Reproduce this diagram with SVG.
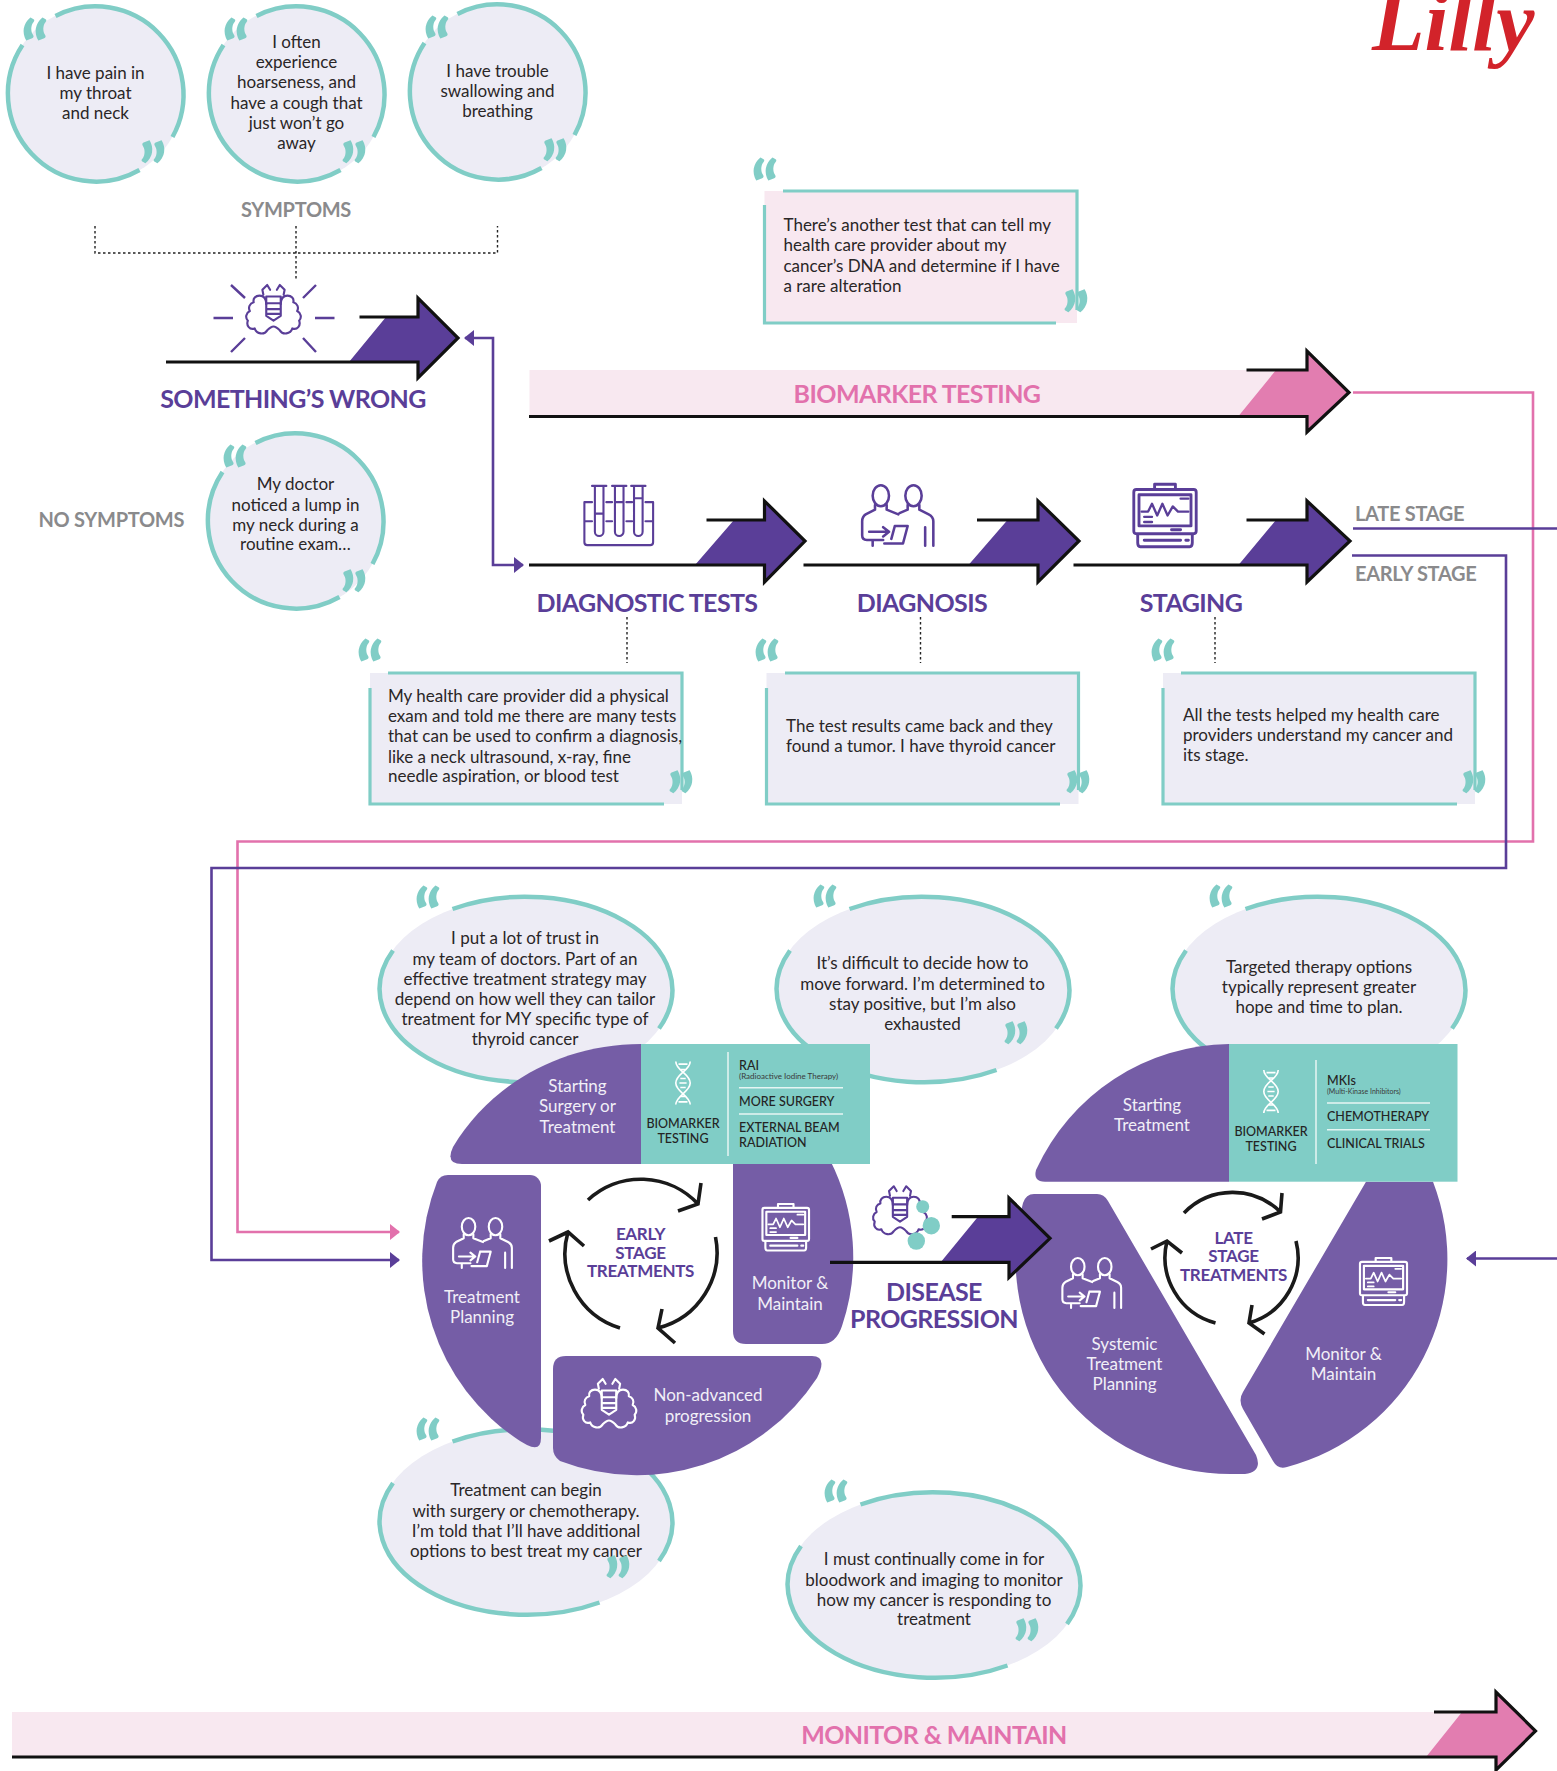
<svg xmlns="http://www.w3.org/2000/svg" xmlns:xlink="http://www.w3.org/1999/xlink" width="1557" height="1771" viewBox="0 0 1557 1771">
<style>
text{font-family:Lato,"Liberation Sans",sans-serif}
.b{font-size:17px;fill:#2a2627}
.c{text-anchor:middle}
.w{font-size:17px;fill:#f1eff7;text-anchor:middle}
.h{font-size:25px;font-weight:700;fill:#5a3e98;text-anchor:middle;letter-spacing:-.6px}
.g{font-size:20px;font-weight:700;fill:#8a8a8c;letter-spacing:-.3px}
.t{font-size:17px;font-weight:700;fill:#5a3e98;text-anchor:middle;letter-spacing:-.3px}
.q{font-size:70px;font-weight:900;fill:#80cdc6}
.s{font-size:12.5px;font-weight:500;fill:#242424}
.xs{font-size:8px;fill:#3a3a3a}
.ring{fill:none;stroke:#80cdc6;stroke-width:4.5}
.lav{fill:#edecf5}
.panel{fill:#755da6}
.teal{fill:#80cdc6}
.arrow{fill:none;stroke:#111;stroke-width:3.2;stroke-linejoin:miter}
.cyc{fill:none;stroke:#1a1a1a;stroke-width:3.6}
.dot{fill:none;stroke:#222;stroke-width:1.4;stroke-dasharray:2.5 2.5}
.wl{stroke:#e6f5f3;stroke-width:1.5}
.box{fill:none;stroke:#80cdc6;stroke-width:3.2}
.ic{fill:none;stroke:currentColor;stroke-width:2.2;stroke-linejoin:round;stroke-linecap:round}
</style>
<defs>
<path id="rg" d="M-40,-78A88,88 0 0 1 77,43M44,76A88,88 0 0 1-73,-49"/>
<path id="eg" d="M-73.5,-80.5A147,93 0 0 1 133,39M73.5,80.5A147,93 0 0 1-133,-39"/>
<symbol id="thy" viewBox="-1 -1 65 60" overflow="visible"><g class="ic"><path d="M24,21C24,14 21,12 17,12C13,12 10,15 11,19C7,20 5,24 7,28C3,30 2,35 5,38C3,43 7,48 12,46C14,52 22,53 25,48C27,46 29,44 31.5,44C34,44 36,46 38,48C41,53 49,52 51,46C56,48 60,43 58,38C61,35 60,30 56,28C58,24 56,20 52,19C53,15 50,12 46,12C42,12 39,14 39,21"/><path d="M24,13H39V33L31.5,38L24,33ZM24,20H39M24,26H39M25,31H38M21,11L20,6L25,1L28,6M42,11L43,6L38,1L35,6"/></g></symbol>
<symbol id="ppl" viewBox="-1 -1 63 54" overflow="visible"><g class="ic"><ellipse cx="16" cy="9" rx="7" ry="9"/><ellipse cx="44" cy="9" rx="7" ry="9"/><path d="M11,17V21L3,25Q0,27 0,31V43Q0,47 4,47H18M21,17V21L31,25M39,17V21L32,24M49,17V21L57,25Q61,27 61,31V52M54,36V52M28,35H39L35,50H19M28,35L25,46M6,40H22M18,36L23,40L18,44M9,47V52"/></g></symbol>
<symbol id="mon" viewBox="-1 -1 50 50" overflow="visible"><g class="ic"><path d="M16,4V0H32V4M2,4H46Q48,4 48,6V36Q48,38 46,38H2Q0,38 0,36V6Q0,4 2,4ZM4,8H44V32H4ZM3,38V45Q3,48 5,48H43Q45,48 45,45V38M8,43H36M40,43H42M29,35H36"/><path d="M6,21H11L14,15L18,24L22,15L26,24L30,17L34,21H42M36,11H42M8,25H14M8,29H14" stroke-width="1.8"/></g></symbol>
<symbol id="tub" viewBox="-1 -1 74 66" overflow="visible"><g class="ic"><path d="M0,18V60Q0,63 3,63H69Q72,63 72,60V18H64M8,18H0M0,38H8M23,38H29M44,38H50M64,38H72M23,18H29M44,18H50"/><path d="M11,1V49A4.5,4.5 0 0 0 20,49V1M8,1H23M32,1V49A4.5,4.5 0 0 0 41,49V1M29,1H44M52,1V49A4.5,4.5 0 0 0 61,49V1M49,1H64M11,30H20M32,18H41M52,14H61"/></g></symbol>
<symbol id="dna" viewBox="-1 -1 20 50" overflow="visible"><g fill="none" stroke="#fff" stroke-width="1.8"><path d="M1,0C1,10 17,14 17,24C17,34 1,38 1,48M17,0C17,10 1,14 1,24C1,34 17,38 17,48M4,3H14M6,9H12M6,19H12M5,24H13M6,29H12M6,39H12M4,45H14"/></g></symbol>
<marker id="mp" viewBox="0 0 10 16" refX="9" refY="8" markerWidth="10" markerHeight="16" markerUnits="userSpaceOnUse" orient="auto-start-reverse"><path d="M0,0L10,8L0,16Z" fill="#5a3e98"/></marker>
<marker id="mk" viewBox="0 0 10 16" refX="9" refY="8" markerWidth="10" markerHeight="16" markerUnits="userSpaceOnUse" orient="auto-start-reverse"><path d="M0,0L10,8L0,16Z" fill="#e271ac"/></marker>
</defs>

<g id="logo"><text x="1372" y="50" font-size="86" font-weight="700" font-style="italic" fill="#d2232a" style="font-family:'Liberation Serif',serif">Lilly</text></g>

<g id="connectors" fill="none" stroke-width="2.6">
<path d="M465,338H493V565H523" stroke="#5a3e98" marker-start="url(#mp)" marker-end="url(#mp)"/>
<path d="M1353,392.500H1533V841.500H237.500V1232H399" stroke="#e271ac" marker-end="url(#mk)"/>
<path d="M1352,555.500H1506V868H211.500V1260H399" stroke="#5a3e98" marker-end="url(#mp)"/>
<path d="M1353,528.500H1557" stroke="#5a3e98"/>
<path d="M1557,1258.500H1467" stroke="#5a3e98" marker-end="url(#mp)"/>
<path class="dot" d="M95,226V253H497.500V226M296,226V280M627,617V663M920.500,617V663M1215,617V663"/>
</g>

<g id="q-pain"><circle cx="95.500" cy="94" r="88" class="lav"/><use href="#rg" x="95.500" y="94" class="ring"/><text class="b c" x="95.500"><tspan x="95.500" y="79">I have pain in</tspan><tspan x="95.500" y="99">my throat</tspan><tspan x="95.500" y="119">and neck</tspan></text></g>
<g id="q-hoarse"><circle cx="296.500" cy="94" r="88" class="lav"/><use href="#rg" x="296.500" y="94" class="ring"/><text class="b c"><tspan x="296.500" y="48">I often</tspan><tspan x="296.500" y="68">experience</tspan><tspan x="296.500" y="88">hoarseness, and</tspan><tspan x="296.500" y="109">have a cough that</tspan><tspan x="296.500" y="129">just won’t go</tspan><tspan x="296.500" y="149">away</tspan></text></g>
<g id="q-swallow"><circle cx="497.500" cy="92" r="88" class="lav"/><use href="#rg" x="497.500" y="92" class="ring"/><text class="b c"><tspan x="497.500" y="77">I have trouble</tspan><tspan x="497.500" y="97">swallowing and</tspan><tspan x="497.500" y="117">breathing</tspan></text></g>
<g id="q-lump"><circle cx="295.500" cy="521" r="88" class="lav"/><use href="#rg" x="295.500" y="521" class="ring"/><text class="b c"><tspan x="295.500" y="490">My doctor</tspan><tspan x="295.500" y="511">noticed a lump in</tspan><tspan x="295.500" y="531">my neck during a</tspan><tspan x="295.500" y="550">routine exam…</tspan></text></g>

<g id="labels"><text class="g c" x="296" y="217">SYMPTOMS</text><text class="g" x="38.500" y="527">NO SYMPTOMS</text><text class="g" x="1355" y="521">LATE STAGE</text><text class="g" x="1355" y="581">EARLY STAGE</text></g>

<g id="somethings-wrong">
<use href="#thy" x="242" y="283" width="63" height="58" color="#5a3e98"/>
<path d="M231,285L245,298M316,285L303,298M213.500,318H233M315,318H334.500M231,352L245,338M316,352L303,338" stroke="#5a3e98" stroke-width="2.4" fill="none"/>
<path d="M386,317H418V298L458,338L418,378V362H349Z" fill="#5a3e98"/><path class="arrow" d="M359.500,317H418V298L458,338L418,378V362H166"/>
<text class="h" x="293" y="408">SOMETHING’S WRONG</text></g>

<g id="biomarker-testing">
<path d="M529.500,370H1276L1238.500,416H529.500Z" fill="#f8e8f0"/>
<path d="M1276,370H1307V351L1349,392.500L1307,432V416H1238.500Z" fill="#e27db0"/><path class="arrow" d="M1246.500,370H1307V351L1349,392.500L1307,432V416.500H529"/>
<text class="h" style="fill:#e271ac" x="917" y="403">BIOMARKER TESTING</text></g>

<g id="q-dna"><path d="M764.500,191H1077V323H764.500Z" fill="#f8e8f0"/><path class="box" d="M783,191H1077V310M1056,323H764.500V205"/><text class="b"><tspan x="783.500" y="231">There’s another test that can tell my</tspan><tspan x="783.500" y="251">health care provider about my</tspan><tspan x="783.500" y="271.500">cancer’s DNA and determine if I have</tspan><tspan x="783.500" y="292">a rare alteration</tspan></text></g>

<g id="diagnostic-tests"><use href="#tub" x="582.500" y="484" width="72.500" height="63" color="#5a3e98"/>
<path d="M734,520H764.500V501L805,541L764.500,582V565H695Z" fill="#5a3e98"/><path class="arrow" d="M706.500,520H764.500V501L805,541L764.500,582V565H529"/>
<text class="h" x="647" y="612">DIAGNOSTIC TESTS</text></g>
<g id="diagnosis"><use href="#ppl" x="860.500" y="484" width="74.500" height="63" color="#5a3e98"/>
<path d="M1007.500,520H1038V501L1079,541L1038,582V565H968.500Z" fill="#5a3e98"/><path class="arrow" d="M977,520H1038V501L1079,541L1038,582V565H803.500"/>
<text class="h" x="922" y="612">DIAGNOSIS</text></g>
<g id="staging"><use href="#mon" x="1132.500" y="483" width="65" height="65" color="#5a3e98"/>
<path d="M1276,520H1307V501L1350,541L1307,582V565H1238.500Z" fill="#5a3e98"/><path class="arrow" d="M1246.500,520H1307V501L1350,541L1307,582V565H1073.500"/>
<text class="h" x="1191" y="612">STAGING</text></g>

<g id="q-tests"><rect x="370" y="673" width="312" height="131" class="lav"/><path class="box" d="M388,673H682V790M664,804H370V688"/><text class="b"><tspan x="388" y="701.500">My health care provider did a physical</tspan><tspan x="388" y="722">exam and told me there are many tests</tspan><tspan x="388" y="742">that can be used to confirm a diagnosis,</tspan><tspan x="388" y="762.500">like a neck ultrasound, x-ray, fine</tspan><tspan x="388" y="782">needle aspiration, or blood test</tspan></text></g>
<g id="q-tumor"><rect x="766.500" y="673" width="312" height="131" class="lav"/><path class="box" d="M785,673H1078.500V790M1060,804H766.500V688"/><text class="b"><tspan x="786" y="732">The test results came back and they</tspan><tspan x="786" y="752">found a tumor. I have thyroid cancer</tspan></text></g>
<g id="q-stage"><rect x="1163" y="673" width="312" height="131" class="lav"/><path class="box" d="M1181,673H1475V790M1457,804H1163V688"/><text class="b"><tspan x="1183" y="721">All the tests helped my health care</tspan><tspan x="1183" y="741">providers understand my cancer and</tspan><tspan x="1183" y="761">its stage.</tspan></text></g>

<g id="q-trust"><ellipse cx="526" cy="989.500" rx="147" ry="93" class="lav"/><use href="#eg" x="526" y="989.500" class="ring"/><text class="b c"><tspan x="525" y="944">I put a lot of trust in</tspan><tspan x="525" y="964.500">my team of doctors. Part of an</tspan><tspan x="525" y="985">effective treatment strategy may</tspan><tspan x="525" y="1005">depend on how well they can tailor</tspan><tspan x="525" y="1024.500">treatment for MY specific type of</tspan><tspan x="525" y="1045">thyroid cancer</tspan></text></g>
<g id="q-decide"><ellipse cx="923" cy="989.500" rx="147" ry="93" class="lav"/><use href="#eg" x="923" y="989.500" class="ring"/><text class="b c"><tspan x="922.500" y="969">It’s difficult to decide how to</tspan><tspan x="922.500" y="989.500">move forward. I’m determined to</tspan><tspan x="922.500" y="1009.500">stay positive, but I’m also</tspan><tspan x="922.500" y="1030">exhausted</tspan></text></g>
<g id="q-hope"><ellipse cx="1319" cy="989.500" rx="147" ry="93" class="lav"/><use href="#eg" x="1319" y="989.500" class="ring"/><text class="b c"><tspan x="1319" y="972.500">Targeted therapy options</tspan><tspan x="1319" y="993">typically represent greater</tspan><tspan x="1319" y="1013">hope and time to plan.</tspan></text></g>
<g id="q-begin"><ellipse cx="526" cy="1522" rx="147" ry="93" class="lav"/><use href="#eg" x="526" y="1522" class="ring"/><text class="b c"><tspan x="526" y="1496">Treatment can begin</tspan><tspan x="526" y="1516.500">with surgery or chemotherapy.</tspan><tspan x="526" y="1537">I’m told that I’ll have additional</tspan><tspan x="526" y="1557">options to best treat my cancer</tspan></text></g>
<g id="q-monitor"><ellipse cx="934" cy="1585" rx="147" ry="93" class="lav"/><use href="#eg" x="934" y="1585" class="ring"/><text class="b c"><tspan x="934" y="1565">I must continually come in for</tspan><tspan x="934" y="1585.500">bloodwork and imaging to monitor</tspan><tspan x="934" y="1606">how my cancer is responding to</tspan><tspan x="934" y="1625">treatment</tspan></text></g>

<g id="quotes">
<text class="q" x="21" y="73">“</text><text class="q" x="222" y="73">“</text><text class="q" x="423" y="71">“</text><text class="q" x="221" y="500">“</text>
<text class="q" x="139" y="195">”</text><text class="q" x="340" y="195">”</text><text class="q" x="541" y="193">”</text><text class="q" x="340" y="624">”</text>
<text class="q" x="751" y="213">“</text><text class="q" x="1062" y="344">”</text>
<text class="q" x="356" y="694">“</text><text class="q" x="667" y="825">”</text>
<text class="q" x="753" y="694">“</text><text class="q" x="1064" y="825">”</text>
<text class="q" x="1149" y="694">“</text><text class="q" x="1460" y="825">”</text>
<text class="q" x="414" y="941">“</text><text class="q" x="811" y="940">“</text><text class="q" x="1207" y="940">“</text><text class="q" x="414" y="1473">“</text><text class="q" x="822" y="1535">“</text>
<text class="q" x="1002" y="1076">”</text><text class="q" x="604" y="1610">”</text><text class="q" x="1013" y="1673">”</text>
</g>

<g id="early-starting"><path class="panel" d="M641,1044C560,1044 490,1085 453,1147Q445,1164 462,1164H641Z"/><text class="w"><tspan x="577.500" y="1092">Starting</tspan><tspan x="577.500" y="1112">Surgery or</tspan><tspan x="577.500" y="1132.500">Treatment</tspan></text></g>
<g id="early-monitor"><path class="panel" d="M733,1160H830A215.500,215.500 0 0 1 842,1326Q836,1344 822,1344H746Q733,1344 733,1331Z"/><use href="#mon" x="761.500" y="1203" width="48.500" height="48.500" color="#fff"/><text class="w"><tspan x="790" y="1289">Monitor &amp;</tspan><tspan x="790" y="1309.500">Maintain</tspan></text></g>
<g id="early-biomarker"><rect x="641" y="1044" width="229" height="120" class="teal"/><use href="#dna" x="674" y="1059" width="18" height="48"/><path class="wl" d="M728,1052V1156M739,1087.700H843M739,1114H843"/><text class="s c" x="683" y="1128">BIOMARKER</text><text class="s c" x="683" y="1142.700">TESTING</text><text class="s" x="739" y="1069.500">RAI</text><text class="xs" x="739" y="1079">(Radioactive Iodine Therapy)</text><text class="s" x="739" y="1106">MORE SURGERY</text><text class="s" x="739" y="1132">EXTERNAL BEAM</text><text class="s" x="739" y="1147">RADIATION</text></g>
<g id="early-planning"><path class="panel" d="M448,1175H530A11,11 0 0 1 541,1186V1438Q541,1452 527,1445L520,1441A215.500,215.500 0 0 1 437,1182Q440,1175 448,1175Z"/><use href="#ppl" x="452" y="1217" width="61" height="52" color="#fff"/><text class="w"><tspan x="482" y="1303">Treatment</tspan><tspan x="482" y="1323">Planning</tspan></text></g>
<g id="early-progression"><path class="panel" d="M566,1356H812Q828,1356 817,1378A215.500,215.500 0 0 1 560,1461Q553,1456 553,1448V1369Q553,1356 566,1356Z"/><use href="#thy" x="577" y="1377" width="64" height="58" color="#fff"/><text class="w"><tspan x="708" y="1401">Non-advanced</tspan><tspan x="708" y="1421.500">progression</tspan></text></g>
<g id="early-cycle"><path class="cyc" d="M588,1200A78,78 0 0 1 698,1204M701,1183L698,1204L678,1211M715.500,1237A78,78 0 0 1 658,1328M662,1309L658,1328L675,1343M620,1328A78,78 0 0 1 568,1232M549,1241L568,1232L584,1246"/><text class="t"><tspan x="640.500" y="1240">EARLY</tspan><tspan x="640.500" y="1259">STAGE</tspan><tspan x="640.500" y="1277">TREATMENTS</tspan></text></g>

<g id="late-starting"><path class="panel" d="M1229,1044A215,215 0 0 0 1036,1170Q1033,1181.700 1045,1181.700H1229Z"/><text class="w"><tspan x="1152" y="1110.500">Starting</tspan><tspan x="1152" y="1130.500">Treatment</tspan></text></g>
<g id="late-planning"><path class="panel" d="M1034,1194H1097Q1104,1194 1108,1201L1256,1455Q1263,1472 1245,1474H1232A215,215 0 0 1 1023,1203Q1026,1194 1034,1194Z"/><use href="#ppl" x="1061" y="1257" width="61.500" height="52" color="#fff"/><text class="w"><tspan x="1124.500" y="1350">Systemic</tspan><tspan x="1124.500" y="1370">Treatment</tspan><tspan x="1124.500" y="1390">Planning</tspan></text></g>
<g id="late-monitor"><path class="panel" d="M1366,1181.700H1433A215,215 0 0 1 1287,1467Q1278,1470 1273,1461L1243,1409Q1238,1400 1243,1392Z"/><use href="#mon" x="1359" y="1257" width="49" height="49" color="#fff"/><text class="w"><tspan x="1343.500" y="1360">Monitor &amp;</tspan><tspan x="1343.500" y="1380">Maintain</tspan></text></g>
<g id="late-biomarker"><rect x="1229" y="1044" width="228.500" height="137.700" class="teal"/><use href="#dna" x="1262" y="1068" width="18" height="47"/><path class="wl" d="M1316,1060V1164M1327,1103H1430M1327,1129.700H1430"/><text class="s c" x="1271" y="1136">BIOMARKER</text><text class="s c" x="1271" y="1150.700">TESTING</text><text class="s" x="1327" y="1085">MKIs</text><text class="xs" x="1327" y="1094" style="font-size:7px">(Multi-Kinase Inhibitors)</text><text class="s" x="1327" y="1121">CHEMOTHERAPY</text><text class="s" x="1327" y="1147.700">CLINICAL TRIALS</text></g>
<g id="late-cycle"><path class="cyc" d="M1184,1213A68,68 0 0 1 1280.500,1212M1282,1193L1280.500,1212L1262,1219M1296,1241A68,68 0 0 1 1249,1323M1252,1305L1249,1323L1264.500,1334M1215.500,1323A68,68 0 0 1 1167,1241M1151,1249L1167,1241L1182,1253"/><text class="t"><tspan x="1233.500" y="1243.500">LATE</tspan><tspan x="1233.500" y="1262">STAGE</tspan><tspan x="1233.500" y="1281">TREATMENTS</tspan></text></g>

<g id="disease-progression"><use href="#thy" x="869" y="1184" width="62" height="58" color="#5a3e98"/><circle cx="922.700" cy="1206.700" r="6.500" class="teal"/><circle cx="931.300" cy="1225.700" r="8.700" class="teal"/><circle cx="916.300" cy="1241" r="8.700" class="teal"/>
<path d="M978,1216.700H1009V1198L1050,1238.300L1009,1277.500V1262.300H940.700Z" fill="#5a3e98"/><path class="arrow" d="M951.700,1216.700H1009V1198L1050,1238.300L1009,1277.500V1262.300H830"/>
<text class="h"><tspan x="934" y="1301">DISEASE</tspan><tspan x="934" y="1328">PROGRESSION</tspan></text></g>

<g id="monitor-maintain"><path d="M12,1712H1462L1426,1757H12Z" fill="#f8e8f0"/><path d="M1462,1712H1496V1692L1535.500,1731L1496,1770V1757H1426Z" fill="#e27db0"/><path class="arrow" d="M1434,1712H1496V1692L1535.500,1731L1496,1770V1757H12"/><text class="h" style="fill:#e271ac" x="934" y="1744">MONITOR &amp; MAINTAIN</text></g>
</svg>
